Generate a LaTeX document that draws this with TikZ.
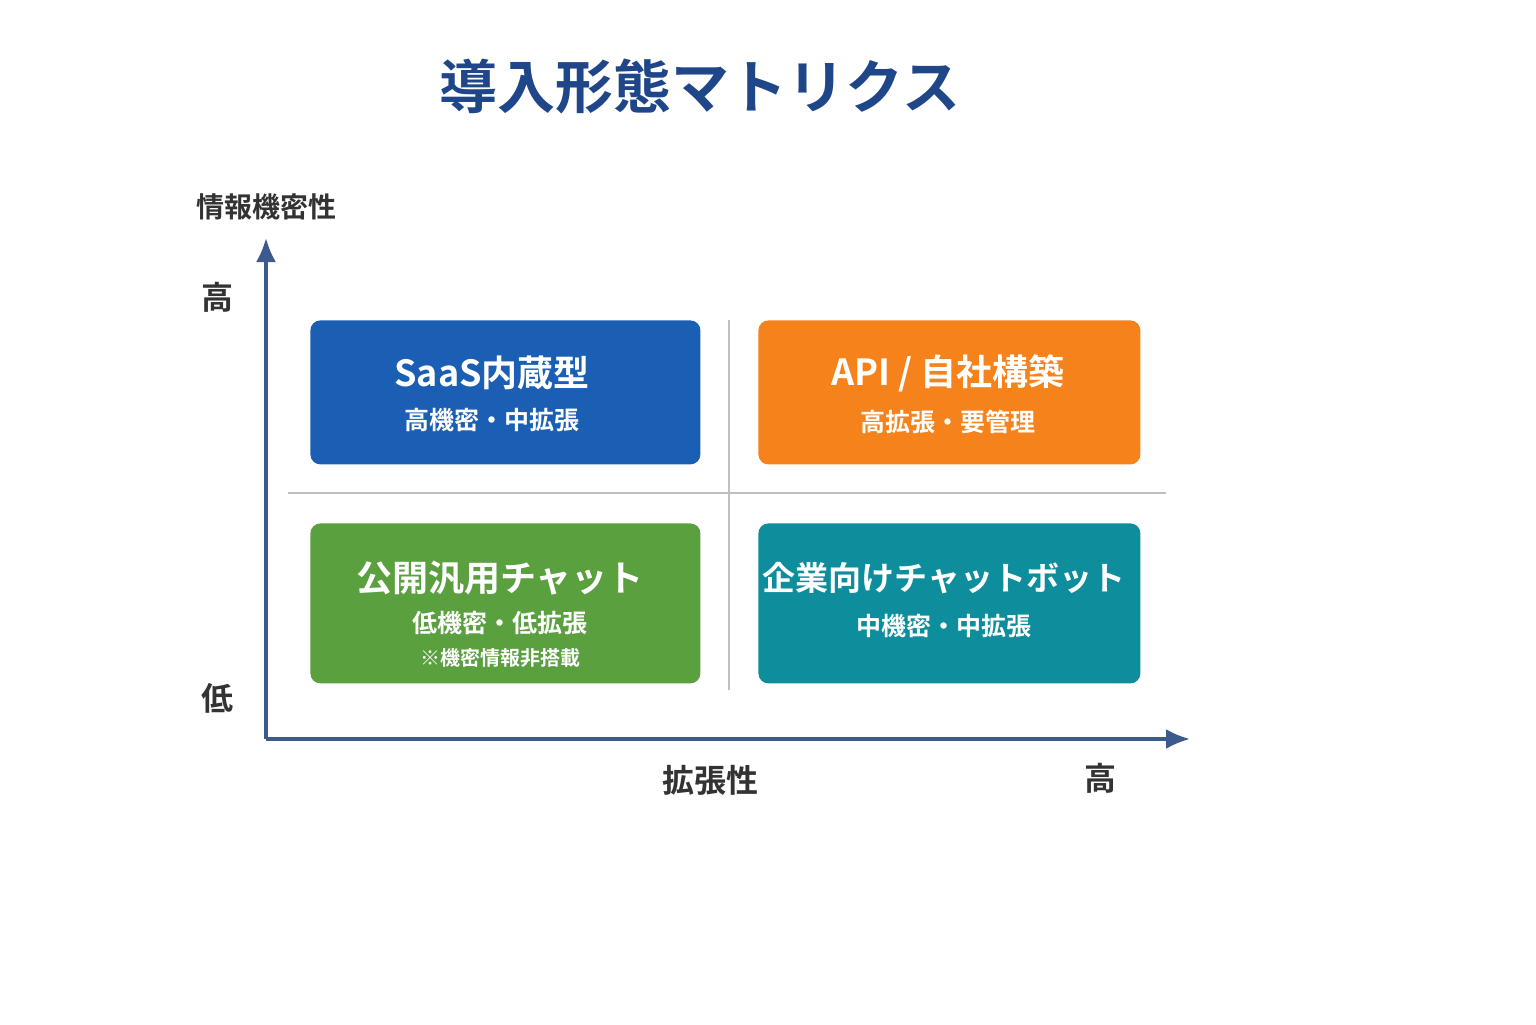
\documentclass[tikz,border=0pt]{standalone}
\usepackage{fontspec}
\setmainfont{Noto Sans CJK JP}[BoldFont={Noto Sans CJK JP Bold}]
\usetikzlibrary{positioning,arrows.meta}
\definecolor{saasblue}{HTML}{1B5FB5}
\definecolor{apiorange}{HTML}{F5821A}
\definecolor{opengreen}{HTML}{5AA03F}
\definecolor{bizteal}{HTML}{0E8E9C}
\definecolor{axisblue}{HTML}{3D5A8C}
\definecolor{titleblue}{HTML}{1F4688}
\begin{document}
\begin{tikzpicture}[x=0.5pt,y=-0.5pt,>=latex,font=\bfseries,
  quad/.style={rounded corners=5pt,draw=none,anchor=north west,text=white,align=center},
  axis/.style={-{Latex[length=12pt,width=10pt]},line width=1.6pt,draw=axisblue,fill=axisblue},
  grid/.style={draw=black!25,line width=0.8pt}]
	\useasboundingbox (0,0) rectangle (1536,1024);
	\node [text=titleblue,font=\bfseries\fontsize{29}{32}\selectfont] at (700,87) (title) {導入形態マトリクス};
	% quadrants
	\node [quad,fill=saasblue,minimum width=195pt,minimum height=72pt] at (310,320) (saas) {};
	\node [quad,fill=apiorange,minimum width=191pt,minimum height=72pt] at (758,320) (api) {};
	\node [quad,fill=opengreen,minimum width=195pt,minimum height=80pt] at (310,523) (open) {};
	\node [quad,fill=bizteal,minimum width=191pt,minimum height=80pt] at (758,523) (biz) {};
	\node [text=white,font=\bfseries\fontsize{18}{20}\selectfont] at (492,373) (saas1) {SaaS内蔵型};
	\node [text=white,font=\bfseries\fontsize{12.5}{14}\selectfont,below=2pt of saas1] (saas2) {高機密・中拡張};
	\node [text=white,font=\bfseries\fontsize{18}{20}\selectfont] at (948,373) (api1) {API / 自社構築};
	\node [text=white,font=\bfseries\fontsize{12.5}{14}\selectfont,below=2pt of api1] (api2) {高拡張・要管理};
	\node [text=white,font=\bfseries\fontsize{18}{20}\selectfont] at (500,578) (open1) {公開汎用チャット};
	\node [text=white,font=\bfseries\fontsize{12.5}{14}\selectfont,below=1pt of open1] (open2) {低機密・低拡張};
	\node [text=white,font=\bfseries\fontsize{10}{12}\selectfont,below=0pt of open2] (open3) {※機密情報非搭載};
	\node [text=white,font=\bfseries\fontsize{16.5}{18}\selectfont] at (944,578) (biz1) {企業向けチャットボット};
	\node [text=white,font=\bfseries\fontsize{12.5}{14}\selectfont,below=3pt of biz1] (biz2) {中機密・中拡張};
	% grid lines
	\coordinate (gt) at (729,320); \coordinate (gb) at (729,690);
	\coordinate (gl) at (288,493); \coordinate (gr) at (1166,493);
	\draw [grid] (gt) -- (gb);
	\draw [grid] (gl) -- (gr);
	% axes
	\coordinate (O) at (266,739); \coordinate (ytop) at (266,238); \coordinate (xend) at (1190,739);
	\draw [axis] (O) -- (ytop);
	\draw [axis] (O) -- (xend);
	\node [text=black!80,font=\bfseries\fontsize{14}{16}\selectfont] at (266,207) (ylabel) {情報機密性};
	\node [text=black!80,font=\bfseries\fontsize{16}{18}\selectfont] at (217,297) (yhigh) {高};
	\node [text=black!80,font=\bfseries\fontsize{16}{18}\selectfont] at (217,698) (ylow) {低};
	\node [text=black!80,font=\bfseries\fontsize{16}{18}\selectfont] at (710,780) (xlabel) {拡張性};
	\node [text=black!80,font=\bfseries\fontsize{16}{18}\selectfont] at (1100,778) (xhigh) {高};
\end{tikzpicture}
\end{document}
